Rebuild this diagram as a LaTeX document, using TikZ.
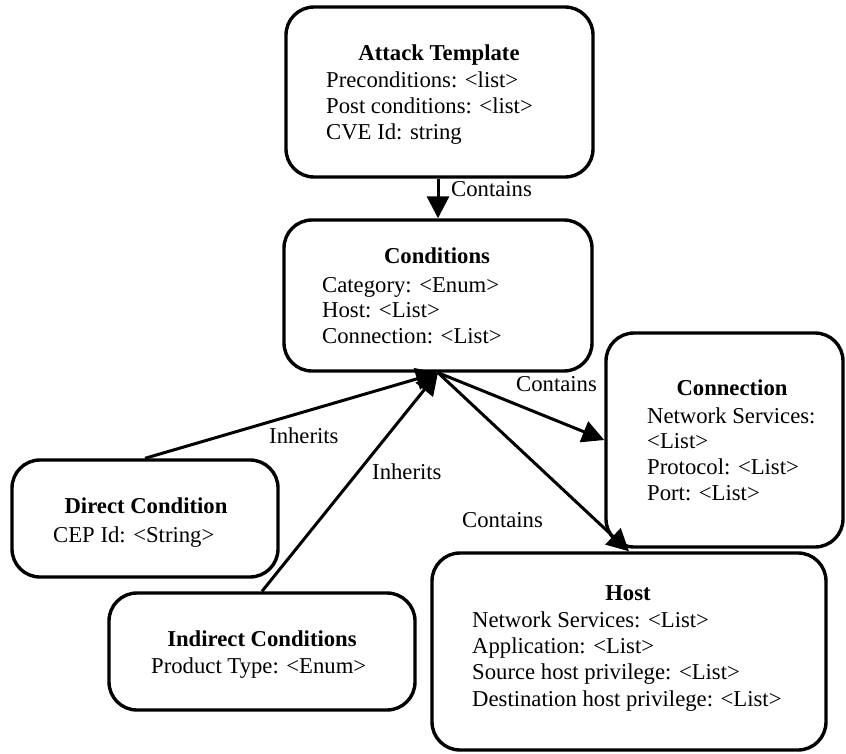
\documentclass[tikz,border=0pt]{standalone}
\usepackage{fontspec}
\setmainfont{Liberation Serif}
\usetikzlibrary{arrows.meta}
\begin{document}
\begin{tikzpicture}[x=1pt,y=-1pt,
  box/.style={draw, line width=3.4pt, rounded corners=28pt, inner sep=0pt},
  ttl/.style={font=\fontsize{22.7}{26}\selectfont\bfseries, anchor=base, inner sep=0pt},
  txt/.style={font=\fontsize{22.7}{26}\selectfont, anchor=base west, inner sep=0pt},
  lbl/.style={font=\fontsize{22.7}{26}\selectfont, anchor=west, inner sep=0pt},
  arr/.style={line width=3pt, -{Triangle[length=22pt,width=22pt]}}]
\useasboundingbox (0,0) rectangle (846,753);

% class boxes
\node[box, minimum width=307pt, minimum height=170pt] (at) at (439.5,92) {};
\node[box, minimum width=308pt, minimum height=151pt] (cond) at (438,295.5) {};
\node[box, minimum width=237pt, minimum height=214pt] (conn) at (724.5,440) {};
\node[box, minimum width=394pt, minimum height=197pt] (host) at (629,651.5) {};
\node[box, minimum width=266pt, minimum height=117pt] (dir) at (145,518.5) {};
\node[box, minimum width=306pt, minimum height=117pt] (ind) at (262,651.5) {};

% Attack Template
\node[ttl] (at-t) at (439,60) {Attack Template};
\node[txt] (at-1) at (326,87) {Preconditions: <list>};
\node[txt] (at-2) at (326,113) {Post conditions: <list>};
\node[txt] (at-3) at (326,139) {CVE Id: string};

% Conditions
\node[ttl] (cond-t) at (437,263) {Conditions};
\node[txt] (cond-1) at (322,292) {Category: <Enum>};
\node[txt] (cond-2) at (322,317.5) {Host: <List>};
\node[txt] (cond-3) at (322,343) {Connection: <List>};

% Connection
\node[ttl] (conn-t) at (732,395) {Connection};
\node[txt] (conn-1) at (647,423) {Network Services:};
\node[txt] (conn-2) at (647,448.5) {<List>};
\node[txt] (conn-3) at (647,474) {Protocol: <List>};
\node[txt] (conn-4) at (647,500) {Port: <List>};

% Host
\node[ttl] (host-t) at (628,600) {Host};
\node[txt] (host-1) at (472,627) {Network Services: <List>};
\node[txt] (host-2) at (472,653) {Application: <List>};
\node[txt] (host-3) at (472,679.5) {Source host privilege: <List>};
\node[txt] (host-4) at (472,706) {Destination host privilege: <List>};

% Direct Condition
\node[ttl] (dir-t) at (146,513) {Direct Condition};
\node[txt] (dir-1) at (53,542) {CEP Id: <String>};

% Indirect Conditions
\node[ttl] (ind-t) at (262,646) {Indirect Conditions};
\node[txt] (ind-1) at (151,673) {Product Type: <Enum>};

% relations
\draw[arr] (at.south -| cond.north) -- (cond.north);
\draw[arr] (dir.north) -- (cond.south);
\draw[arr] (ind.north) -- (cond.south);
\draw[arr] (cond.south) -- (conn.west);
\draw[arr] (cond.south) -- (host.north);

% relation labels
\node[lbl] (l1) at (451,189) {Contains};
\node[lbl] (l2) at (516,384) {Contains};
\node[lbl] (l3) at (462,520) {Contains};
\node[lbl] (l4) at (269,436) {Inherits};
\node[lbl] (l5) at (372,472) {Inherits};
\end{tikzpicture}
\end{document}
